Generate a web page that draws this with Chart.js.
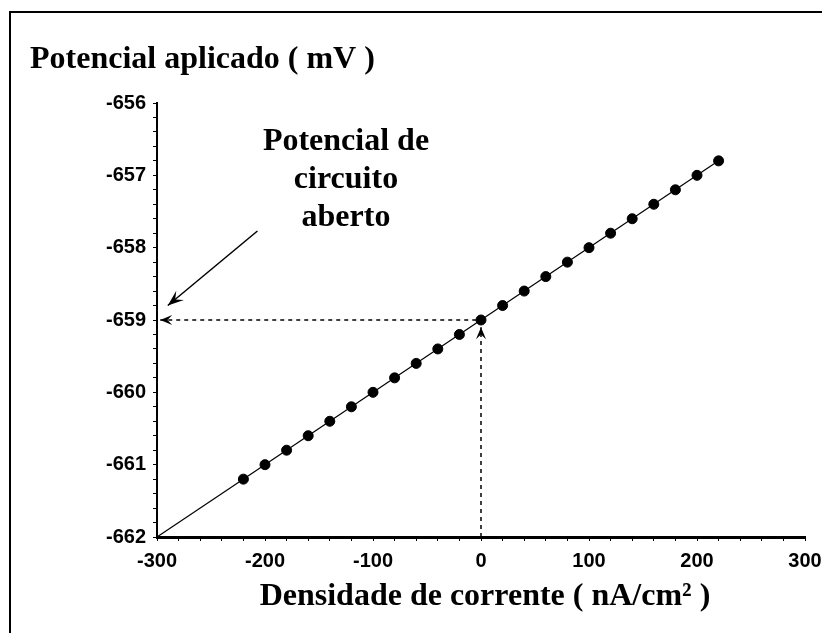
<!DOCTYPE html>
<html lang="pt">
<head>
    <meta charset="UTF-8">
    <title>Potencial aplicado vs densidade de corrente</title>
    <script src="https://cdn.jsdelivr.net/npm/chart.js"></script>
    <style>
        body {
            margin: 0;
            background-color: #fff;
        }
        .chart-container {
            position: relative;
            width: 822px;
            height: 633px;
        }
    </style>
</head>
<body>
    <div class="chart-container">
        <canvas id="potChart" width="822" height="633"></canvas>
    </div>
    <script>
        // measured points (nA/cm2, mV)
        const densidade = [-220, -200, -180, -160, -140, -120, -100, -80, -60, -40, -20, 0,
                           20, 40, 60, 80, 100, 120, 140, 160, 180, 200, 220];
        const potencial = [-661.2, -661.0, -660.8, -660.6, -660.4, -660.2, -660.0, -659.8, -659.6, -659.4, -659.2, -659.0,
                           -658.8, -658.6, -658.4, -658.2, -658.0, -657.8, -657.6, -657.4, -657.2, -657.0, -656.8];

        // fitted straight line
        const retaX = [-300, 220];
        const retaY = [-662, -656.8];

        // open circuit potential guides
        const guiaHX = [-297, 0];
        const guiaHY = [-659, -659];
        const guiaVX = [0, 0];
        const guiaVY = [-662, -659.1];

        // pointer arrow from the label (data coords)
        const setaX = [-207, -290];
        const setaY = [-657.77, -658.8];

        const tituloY = 'Potencial aplicado ( mV )';
        const tituloX = 'Densidade de corrente ( nA/cm\u00b2 )';
        const rotulo = ['Potencial de', 'circuito', 'aberto'];

        const serif = 'bold 32px "Liberation Serif", "Times New Roman", serif';

        function toPoints(xs, ys) {
            return xs.map((x, i) => ({ x: x, y: ys[i] }));
        }

        function arrowHead(ctx, x1, y1, x2, y2, len, wid) {
            const a = Math.atan2(y2 - y1, x2 - x1);
            ctx.save();
            ctx.translate(x2, y2);
            ctx.rotate(a);
            ctx.beginPath();
            ctx.moveTo(0, 0);
            ctx.lineTo(-len, -wid);
            ctx.lineTo(-len * 0.6, 0);
            ctx.lineTo(-len, wid);
            ctx.closePath();
            ctx.fill();
            ctx.restore();
        }

        const extras = {
            id: 'extras',
            beforeDraw(chart) {
                const ctx = chart.ctx;
                ctx.save();
                ctx.fillStyle = '#fff';
                ctx.fillRect(0, 0, chart.width, chart.height);
                ctx.strokeStyle = '#000';
                ctx.lineWidth = 2;
                ctx.beginPath();
                ctx.moveTo(10, chart.height);
                ctx.lineTo(10, 12);
                ctx.lineTo(chart.width, 12);
                ctx.stroke();
                ctx.restore();
            },
            afterDatasetsDraw(chart) {
                const ctx = chart.ctx;
                const xs = chart.scales.x, ys = chart.scales.y;
                ctx.save();
                ctx.fillStyle = '#000';
                ctx.strokeStyle = '#000';

                // arrowheads on dashed guides
                arrowHead(ctx, xs.getPixelForValue(guiaHX[1]), ys.getPixelForValue(guiaHY[1]),
                          xs.getPixelForValue(guiaHX[0]), ys.getPixelForValue(guiaHY[0]), 12, 5);
                arrowHead(ctx, xs.getPixelForValue(guiaVX[0]), ys.getPixelForValue(guiaVY[0]),
                          xs.getPixelForValue(guiaVX[1]), ys.getPixelForValue(guiaVY[1]), 12, 5);

                // pointer arrow
                const ax1 = xs.getPixelForValue(setaX[0]), ay1 = ys.getPixelForValue(setaY[0]);
                const ax2 = xs.getPixelForValue(setaX[1]), ay2 = ys.getPixelForValue(setaY[1]);
                ctx.lineWidth = 1.5;
                ctx.beginPath();
                ctx.moveTo(ax1, ay1);
                ctx.lineTo(ax2, ay2);
                ctx.stroke();
                arrowHead(ctx, ax1, ay1, ax2, ay2, 16, 6);

                // texts
                ctx.font = serif;
                ctx.textBaseline = 'alphabetic';
                ctx.textAlign = 'left';
                ctx.fillText(tituloY, 30, 68);
                ctx.textAlign = 'center';
                ctx.fillText(tituloX, 485, 605);
                rotulo.forEach((t, i) => ctx.fillText(t, 346, 150 + i * 38));
                ctx.restore();
            }
        };

        const ctx = document.getElementById('potChart').getContext('2d');
        new Chart(ctx, {
            type: 'scatter',
            data: {
                datasets: [
                    {
                        data: toPoints(retaX, retaY),
                        showLine: true,
                        borderColor: '#000',
                        borderWidth: 1.2,
                        pointRadius: 0,
                        clip: false
                    },
                    {
                        data: toPoints(guiaHX, guiaHY),
                        showLine: true,
                        borderColor: '#000',
                        borderWidth: 1.5,
                        borderDash: [4, 4],
                        pointRadius: 0,
                        clip: false
                    },
                    {
                        data: toPoints(guiaVX, guiaVY),
                        showLine: true,
                        borderColor: '#000',
                        borderWidth: 1.5,
                        borderDash: [4, 4],
                        pointRadius: 0,
                        clip: false
                    },
                    {
                        data: toPoints(densidade, potencial),
                        backgroundColor: '#000',
                        borderColor: '#000',
                        pointRadius: 5,
                        pointHoverRadius: 5
                    }
                ]
            },
            options: {
                responsive: false,
                animation: false,
                events: [],
                layout: {
                    padding: { top: 103, right: 17, bottom: 0, left: 0 }
                },
                plugins: {
                    legend: { display: false },
                    tooltip: { enabled: false }
                },
                scales: {
                    x: {
                        type: 'linear',
                        min: -300,
                        max: 300,
                        afterFit(scale) {
                            scale.height = 96;
                            scale.paddingLeft = 0;
                            scale.paddingRight = 0;
                        },
                        border: { display: true, color: '#000', width: 3 },
                        grid: {
                            drawOnChartArea: false,
                            drawTicks: true,
                            tickLength: 4,
                            color: '#000'
                        },
                        ticks: {
                            stepSize: 20,
                            autoSkip: false,
                            maxRotation: 0,
                            padding: 8,
                            color: '#000',
                            font: { family: '"Liberation Sans", Arial, sans-serif', size: 20, weight: 'bold' },
                            callback: v => (Math.abs(v % 100) < 1e-6 ? String(Math.round(v)) : '')
                        }
                    },
                    y: {
                        type: 'linear',
                        min: -662,
                        max: -656,
                        afterFit(scale) { scale.width = 157; },
                        border: { display: true, color: '#000', width: 2 },
                        grid: {
                            drawOnChartArea: false,
                            drawTicks: true,
                            tickLength: 4,
                            color: '#000'
                        },
                        ticks: {
                            stepSize: 0.2,
                            autoSkip: false,
                            padding: 7,
                            color: '#000',
                            font: { family: '"Liberation Sans", Arial, sans-serif', size: 20, weight: 'bold' },
                            callback: v => (Math.abs(v - Math.round(v)) < 1e-6 ? String(Math.round(v)) : '')
                        }
                    }
                }
            },
            plugins: [extras]
        });
    </script>
</body>
</html>
